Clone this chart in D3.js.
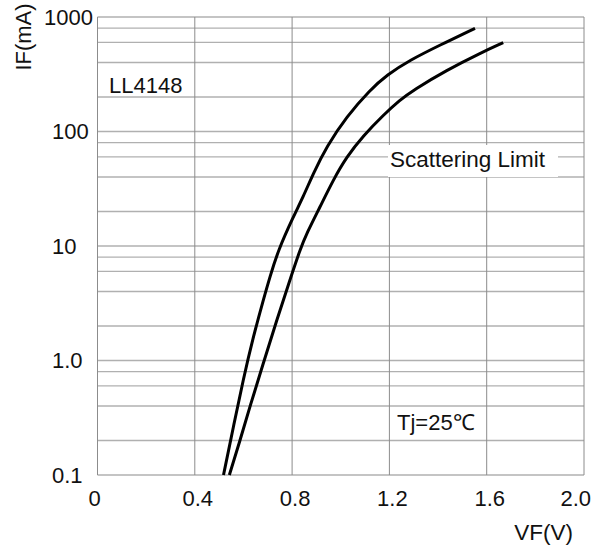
<!DOCTYPE html>
<html lang="en">
<head>
    <meta charset="UTF-8">
    <title>LL4148 forward characteristics</title>
    <script src="https://d3js.org/d3.v7.min.js"></script>
    <style>
        body { margin: 0; background: #fff; }
        text { font-family: "Liberation Sans", Arial, sans-serif; fill: #111; }
    </style>
</head>
<body>
    <script>
        //SVG dimensions
        var w = 595;
        var h = 550;

        //Plot box edges
        var plotLeft = 97.5;
        var plotRight = 584;
        var plotTop = 17;
        var plotBottom = 475;

        //Curve data: VF in volts, IF in mA
        var vfLow = [0.518, 0.558, 0.599, 0.640, 0.682, 0.709, 0.743, 0.805, 0.846, 0.887, 0.942, 1.024, 1.120, 1.189, 1.285, 1.408, 1.552];
        var ifLow = [0.1, 0.26, 0.68, 1.6, 3.4, 5.4, 9.2, 18, 27, 43, 74, 135, 230, 311, 421, 569, 796];
        var vfHigh = [0.542, 0.586, 0.627, 0.682, 0.737, 0.791, 0.832, 0.860, 0.915, 0.969, 1.024, 1.093, 1.175, 1.243, 1.298, 1.436, 1.572, 1.668];
        var ifHigh = [0.1, 0.2, 0.4, 0.95, 2.26, 5.05, 9.2, 12.9, 22, 37.7, 60, 92, 139, 188, 230, 344, 482, 597];

        //Ticks and grid
        var xTicks = [0, 0.4, 0.8, 1.2, 1.6, 2.0];
        var xTickLabels = ["0", "0.4", "0.8", "1.2", "1.6", "2.0"];
        var yTicks = [0.1, 1, 10, 100, 1000];
        var yTickLabels = ["0.1", "1.0", "10", "100", "1000"];
        var yGrid = [0.1, 0.2, 0.4, 0.6, 0.8, 1, 2, 4, 6, 8, 10, 20, 40, 60, 80, 100, 200, 400, 600, 800, 1000];

        var svg = d3.select("body")
            .append("svg")
            .attr("width", w)
            .attr("height", h);

        var xScale = d3.scaleLinear()
            .domain([0, 2.0])
            .range([plotLeft, plotRight]);

        var yScale = d3.scaleLog()
            .domain([0.1, 1000])
            .range([plotBottom, plotTop]);

        //Horizontal grid lines
        svg.selectAll("line.hgrid")
            .data(yGrid)
            .enter()
            .append("line")
            .attr("class", "hgrid")
            .attr("x1", plotLeft)
            .attr("x2", plotRight)
            .attr("y1", function(d) { return yScale(d); })
            .attr("y2", function(d) { return yScale(d); })
            .attr("stroke", "#b0b0b0")
            .attr("stroke-width", 1.4);

        //Vertical grid lines
        svg.selectAll("line.vgrid")
            .data(xTicks)
            .enter()
            .append("line")
            .attr("class", "vgrid")
            .attr("x1", function(d) { return xScale(d); })
            .attr("x2", function(d) { return xScale(d); })
            .attr("y1", plotTop)
            .attr("y2", plotBottom)
            .attr("stroke", "#8c8c8c")
            .attr("stroke-width", 1);

        //White box behind the "Scattering Limit" note
        svg.append("rect")
            .attr("x", 388)
            .attr("y", 145)
            .attr("width", 170)
            .attr("height", 32)
            .attr("fill", "#fff");

        //Curves (basis spline smooths out reading noise)
        var line = d3.line()
            .x(function(d) { return xScale(d[0]); })
            .y(function(d) { return yScale(d[1]); })
            .curve(d3.curveBasis);

        var curves = [d3.zip(vfLow, ifLow), d3.zip(vfHigh, ifHigh)];
        svg.selectAll("path.curve")
            .data(curves)
            .enter()
            .append("path")
            .attr("class", "curve")
            .attr("d", line)
            .attr("fill", "none")
            .attr("stroke", "#000")
            .attr("stroke-width", 3);

        //X tick labels
        svg.selectAll("text.xtick")
            .data(xTicks)
            .enter()
            .append("text")
            .attr("class", "xtick")
            .attr("x", function(d, i) { return i === xTicks.length - 1 ? 591 : xScale(d) + (i === 0 ? -3 : 3); })
            .attr("y", 506)
            .attr("text-anchor", function(d, i) { return i === xTicks.length - 1 ? "end" : "middle"; })
            .style("font-size", "22px")
            .text(function(d, i) { return xTickLabels[i]; });

        //Y tick labels
        svg.selectAll("text.ytick")
            .data(yTicks)
            .enter()
            .append("text")
            .attr("class", "ytick")
            .attr("x", function(d, i) { return i === yTicks.length - 1 ? 93 : 52; })
            .attr("y", function(d) { return yScale(d) + 7.5; })
            .attr("text-anchor", function(d, i) { return i === yTicks.length - 1 ? "end" : "start"; })
            .style("font-size", "22px")
            .text(function(d, i) { return yTickLabels[i]; });

        //Axis titles
        svg.append("text")
            .attr("transform", "translate(31,37) rotate(-90)")
            .attr("text-anchor", "middle")
            .style("font-size", "22px")
            .text("IF(mA)");

        svg.append("text")
            .attr("x", 573)
            .attr("y", 540)
            .attr("text-anchor", "end")
            .style("font-size", "22.5px")
            .text("VF(V)");

        //Notes
        svg.append("text")
            .attr("x", 109)
            .attr("y", 93)
            .style("font-size", "22px")
            .text("LL4148");

        svg.append("text")
            .attr("x", 390)
            .attr("y", 167)
            .style("font-size", "22.5px")
            .text("Scattering Limit");

        svg.append("text")
            .attr("x", 397)
            .attr("y", 430)
            .style("font-size", "22px")
            .text("Tj=25\u2103");
    </script>
</body>
</html>
